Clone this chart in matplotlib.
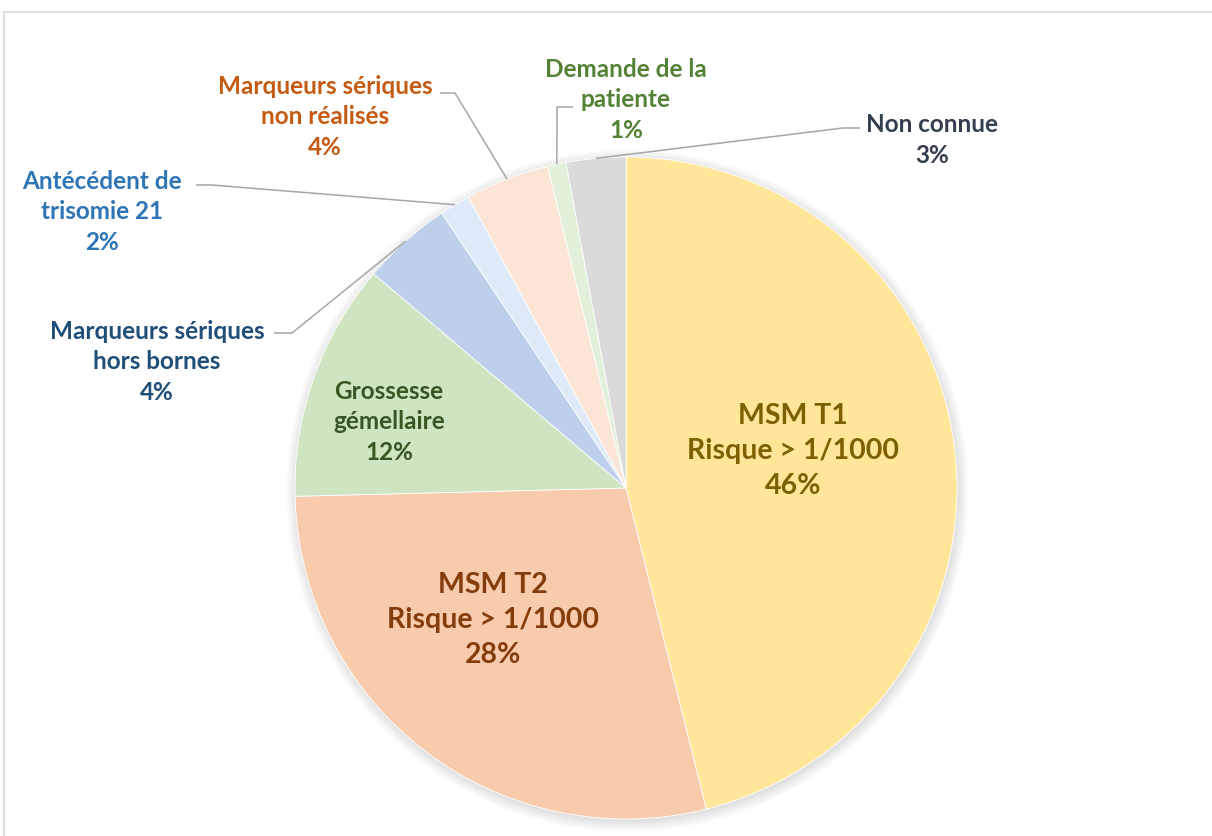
import matplotlib
matplotlib.use("Agg")
import matplotlib.pyplot as plt
from matplotlib.patches import Rectangle, Circle
import numpy as np

# ---- data ----
categories = [
    "MSM T1\nRisque > 1/1000",
    "MSM T2\nRisque > 1/1000",
    "Grossesse\ngémellaire",
    "Marqueurs sériques\nhors bornes",
    "Antécédent de\ntrisomie 21",
    "Marqueurs sériques\nnon réalisés",
    "Demande de la\npatiente",
    "Non connue",
]
values = [46.1, 28.5, 11.6, 4.4, 1.5, 4.1, 0.9, 2.9]
pct_labels = ["46%", "28%", "12%", "4%", "2%", "4%", "1%", "3%"]

# ---- styles ----
fill_colors = ["#FFE699", "#F8CBAD", "#CFE4C0", "#BDCFEA", "#DEEAF7", "#FBE5D6", "#E2F0D9", "#DADADA"]
text_colors = ["#7F6000", "#843C0C", "#375623", "#1F4E79", "#2E75B6", "#C55A11", "#548235", "#333F50"]
font_sizes = [20.5, 20.5, 17.5, 17.5, 17.5, 17.5, 17.5, 17.5]
line_spacings = [1.45, 1.45, 1.38, 1.38, 1.38, 1.38, 1.38, 1.38]
LEADER = "#A6A6A6"

W, H = 1212, 836
CX, CY, R = 626, 488, 331

def px(x, y):
    return ((x - CX) / R, (CY - y) / R)

# label text centres (pixels) and leader elbows (pixels, None = inside label)
label_pos = [(793, 451), (493, 620), (389, 422), (157, 362), (102, 212), (325, 117), (626, 100), (932, 140)]
elbows = [None, None, None,
          [(274, 333), (292, 333)],
          [(196, 185), (212, 185)],
          [(440, 93), (455, 93)],
          [(573, 107), (557, 107)],
          [(860, 128), (843, 128)]]

plt.rcParams['font.family'] = ['Lato', 'DejaVu Sans']
fig = plt.figure(figsize=(W / 100, H / 100), dpi=100)
fig.patch.set_facecolor("white")
ax = fig.add_axes([0, 0, 1, 1])

# outer frame
fig.patches.append(Rectangle((4 / W, -0.01), 1.1, (H - 12) / H + 0.01, transform=fig.transFigure,
                             fill=False, edgecolor="#D9D9D9", linewidth=1.2))

# soft shadow
for k in range(10):
    ax.add_patch(Circle((0.004, -0.008), 1.0 + 0.0035 * k, facecolor="#000000", alpha=0.012,
                        edgecolor="none", zorder=1))

wedges, _ = ax.pie(values, colors=fill_colors, startangle=90, counterclock=False, radius=1.0,
                   wedgeprops=dict(linewidth=0.6, edgecolor="white"))
for w in wedges:
    w.set_zorder(2)

ax.set_xlim(-CX / R, (W - CX) / R)
ax.set_ylim((CY - H) / R, CY / R)
ax.set_aspect("equal")
ax.axis("off")

for i, w in enumerate(wedges):
    ang = np.deg2rad((w.theta1 + w.theta2) / 2)
    text = categories[i] + "\n" + pct_labels[i]
    tx, ty = px(*label_pos[i])
    ax.text(tx, ty, text, ha="center", va="center", color=text_colors[i], fontsize=font_sizes[i],
            fontweight="bold", linespacing=line_spacings[i], zorder=5)
    if elbows[i] is not None:
        sx, sy = np.cos(ang), np.sin(ang)
        pts = [px(*p) for p in elbows[i]] + [(sx, sy)]
        xs, ys = zip(*pts)
        ax.plot(xs, ys, color=LEADER, linewidth=1.1, zorder=4, solid_capstyle="butt")

fig.savefig("out.png", dpi=100)
